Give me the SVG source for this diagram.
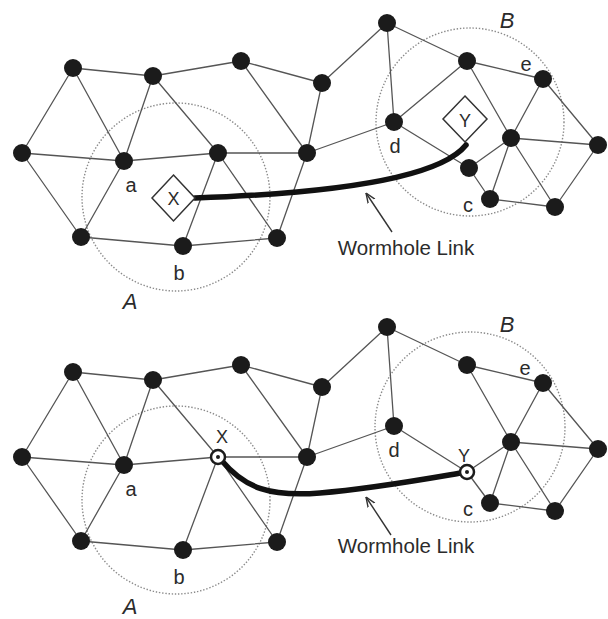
<svg xmlns="http://www.w3.org/2000/svg" width="608" height="619" viewBox="0 0 608 619">
<defs>
<style>
.e{stroke:#555;stroke-width:1.3;fill:none}
.n{fill:#1b1b1b}
.rng{fill:#fff;stroke:#1b1b1b;stroke-width:2.5}
.zone{fill:none;stroke:#8a8a8a;stroke-width:1.4;stroke-dasharray:1.4 1.8}
.lbl{font-family:"Liberation Sans",Arial,sans-serif;font-size:20px;fill:#2b2b2b;text-anchor:middle}
.zl{font-style:italic;font-size:22px}
.sm{font-size:18px}
.wh{stroke:#111;stroke-width:5.5;fill:none;stroke-linecap:round}
.dia{fill:#fff;stroke:#333;stroke-width:1.5}
.ar{stroke:#333;stroke-width:1.4;fill:none}
</style>
<marker id="head" viewBox="0 0 10 10" refX="10" refY="5" markerWidth="10" markerHeight="10" markerUnits="userSpaceOnUse" orient="auto">
<path d="M0,1 L10,5 L0,9" fill="none" stroke="#333" stroke-width="1.4"/>
</marker>
</defs>
<rect width="608" height="619" fill="#fff"/>

<g id="zones">
<circle class="zone" cx="176" cy="197" r="94"/>
<circle class="zone" cx="470" cy="122" r="94"/>
<circle class="zone" cx="176" cy="500" r="94"/>
<circle class="zone" cx="470" cy="427" r="95"/>
</g>

<g id="connectors">
<path class="e" d="M73,68L153,76M73,68L22,153M73,68L124,161M153,76L241,61M153,76L124,161M153,76L218,153M241,61L307,153M241,61L322,83M22,153L124,161M22,153L81,237M124,161L218,153M124,161L81,237M218,153L307,153M218,153L183,246M218,153L277,238M81,237L183,246M183,246L277,238M307,153L277,238"/>
<path class="e" d="M387,23L322,83M387,23L394,122M387,23L467,61M322,83L307,153M307,153L394,122M394,122L467,61M394,122L469,168M467,61L543,79M467,61L511,138M543,79L511,138M543,79L598,145M511,138L598,145M511,138L469,168M511,138L490,199M511,138L555,207M469,168L490,199M490,199L555,207M598,145L555,207"/>
<path class="e" d="M73,372L153,380M73,372L22,457M73,372L124,465M153,380L241,365M153,380L124,465M153,380L218,457M241,365L307,457M241,365L322,387M22,457L124,465M22,457L81,541M124,465L218,457M124,465L81,541M218,457L307,457M218,457L183,550M218,457L277,542M81,541L183,550M183,550L277,542M307,457L277,542"/>
<path class="e" d="M387,327L322,387M387,327L394,426M387,327L467,365M322,387L307,457M307,457L394,426M394,426L467,472M467,365L543,383M467,365L511,442M543,383L511,442M543,383L598,449M511,442L598,449M511,442L467,472M511,442L490,503M511,442L555,511M467,472L490,503M490,503L555,511M598,449L555,511"/>
<path id="wormhole-top" class="wh" d="M195,198 Q430,190 466,145"/>
<path id="wormhole-bottom" class="wh" d="M222,461 C245,488 270,497 320,493 S420,480 461,473"/>
<line class="ar" x1="392" y1="232" x2="366" y2="193" marker-end="url(#head)"/>
<line class="ar" x1="391" y1="535" x2="366" y2="497" marker-end="url(#head)"/>
</g>

<g id="t-n1"><circle class="n" cx="73" cy="68" r="9"/></g>
<g id="t-n2"><circle class="n" cx="153" cy="76" r="9"/></g>
<g id="t-n3"><circle class="n" cx="241" cy="61" r="9"/></g>
<g id="t-n4"><circle class="n" cx="22" cy="153" r="9"/></g>
<g id="t-a"><circle class="n" cx="124" cy="161" r="9"/><text class="lbl" x="131" y="192">a</text></g>
<g id="t-n6"><circle class="n" cx="218" cy="153" r="9"/></g>
<g id="t-n7"><circle class="n" cx="307" cy="153" r="9"/></g>
<g id="t-n8"><circle class="n" cx="81" cy="237" r="9"/></g>
<g id="t-b"><circle class="n" cx="183" cy="246" r="9"/><text class="lbl" x="179" y="280">b</text></g>
<g id="t-n10"><circle class="n" cx="277" cy="238" r="9"/></g>
<g id="t-n11"><circle class="n" cx="387" cy="23" r="9"/></g>
<g id="t-n12"><circle class="n" cx="322" cy="83" r="9"/></g>
<g id="t-d"><circle class="n" cx="394" cy="122" r="9"/><text class="lbl" x="395" y="153">d</text></g>
<g id="t-n14"><circle class="n" cx="467" cy="61" r="9"/></g>
<g id="t-e"><circle class="n" cx="543" cy="79" r="9"/><text class="lbl" x="526" y="71">e</text></g>
<g id="t-n16"><circle class="n" cx="511" cy="138" r="9"/></g>
<g id="t-n17"><circle class="n" cx="598" cy="145" r="9"/></g>
<g id="t-n18"><circle class="n" cx="469" cy="168" r="9"/></g>
<g id="t-c"><circle class="n" cx="490" cy="199" r="9"/><text class="lbl" x="468" y="212">c</text></g>
<g id="t-n20"><circle class="n" cx="555" cy="207" r="9"/></g>
<g id="t-X"><polygon class="dia" points="173.5,175 195,198 173.5,221 152,198"/><text class="lbl sm" x="173.5" y="205">X</text></g>
<g id="t-Y"><polygon class="dia" points="465,96 487,119 465,142 443,119"/><text class="lbl sm" x="465" y="127">Y</text></g>
<g id="t-zoneA"><text class="lbl zl" x="130" y="309">A</text></g>
<g id="t-zoneB"><text class="lbl zl" x="507" y="28">B</text></g>
<g id="t-caption"><text class="lbl" x="406" y="255" style="font-size:20.5px">Wormhole Link</text></g>

<g id="b-n1"><circle class="n" cx="73" cy="372" r="9"/></g>
<g id="b-n2"><circle class="n" cx="153" cy="380" r="9"/></g>
<g id="b-n3"><circle class="n" cx="241" cy="365" r="9"/></g>
<g id="b-n4"><circle class="n" cx="22" cy="457" r="9"/></g>
<g id="b-a"><circle class="n" cx="124" cy="465" r="9"/><text class="lbl" x="131" y="496">a</text></g>
<g id="b-X"><circle class="rng" cx="218" cy="457" r="7"/><circle class="n" cx="218" cy="457" r="2"/><text class="lbl sm" x="222" y="443">X</text></g>
<g id="b-n7"><circle class="n" cx="307" cy="457" r="9"/></g>
<g id="b-n8"><circle class="n" cx="81" cy="541" r="9"/></g>
<g id="b-b"><circle class="n" cx="183" cy="550" r="9"/><text class="lbl" x="179" y="584">b</text></g>
<g id="b-n10"><circle class="n" cx="277" cy="542" r="9"/></g>
<g id="b-n11"><circle class="n" cx="387" cy="327" r="9"/></g>
<g id="b-n12"><circle class="n" cx="322" cy="387" r="9"/></g>
<g id="b-d"><circle class="n" cx="394" cy="426" r="9"/><text class="lbl" x="394" y="457">d</text></g>
<g id="b-n14"><circle class="n" cx="467" cy="365" r="9"/></g>
<g id="b-e"><circle class="n" cx="543" cy="383" r="9"/><text class="lbl" x="525" y="375">e</text></g>
<g id="b-n16"><circle class="n" cx="511" cy="442" r="9"/></g>
<g id="b-n17"><circle class="n" cx="598" cy="449" r="9"/></g>
<g id="b-Y"><circle class="rng" cx="467" cy="472" r="7"/><circle class="n" cx="467" cy="472" r="2"/><text class="lbl sm" x="464" y="462">Y</text></g>
<g id="b-c"><circle class="n" cx="490" cy="503" r="9"/><text class="lbl" x="468" y="516">c</text></g>
<g id="b-n20"><circle class="n" cx="555" cy="511" r="9"/></g>
<g id="b-zoneA"><text class="lbl zl" x="130" y="614">A</text></g>
<g id="b-zoneB"><text class="lbl zl" x="507" y="332">B</text></g>
<g id="b-caption"><text class="lbl" x="406" y="553" style="font-size:20.5px">Wormhole Link</text></g>
</svg>
